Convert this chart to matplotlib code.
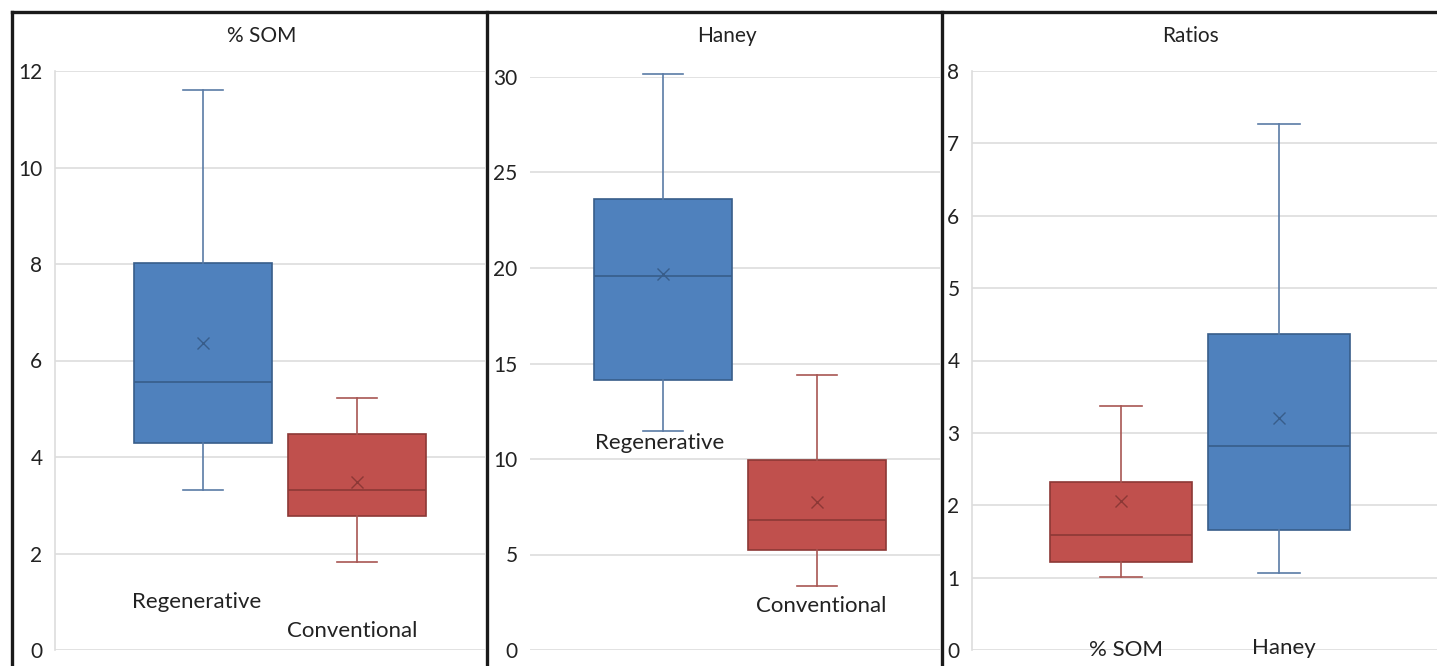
import matplotlib
matplotlib.use('Agg')
from matplotlib import pyplot as plt
from matplotlib.lines import Line2D

# five-number summaries + mean
titles = ['% SOM', 'Haney', 'Ratios']
box_names = [['Regenerative', 'Conventional'],
             ['Regenerative', 'Conventional'],
             ['% SOM', 'Haney']]

som_lo = [3.32, 1.82]
som_q1 = [4.29, 2.78]
som_med = [5.55, 3.32]
som_q3 = [8.02, 4.48]
som_hi = [11.61, 5.22]
som_mean = [6.36, 3.48]

haney_lo = [11.47, 3.35]
haney_q1 = [14.14, 5.24]
haney_med = [19.58, 6.80]
haney_q3 = [23.60, 9.95]
haney_hi = [30.16, 14.40]
haney_mean = [19.70, 7.75]

ratio_lo = [1.01, 1.06]
ratio_q1 = [1.22, 1.66]
ratio_med = [1.59, 2.82]
ratio_q3 = [2.32, 4.36]
ratio_hi = [3.37, 7.27]
ratio_mean = [2.06, 3.20]

y_max = [12, 30, 8]
y_step = [2, 5, 1]

# where the category names sit inside each panel (data coords)
label_dx = [[-0.04, -0.03], [-0.02, 0.03], [0.03, 0.03]]
label_y = [[0.99, 0.39], [10.85, 2.3], [0.0, 0.03]]

BLUE, BLUE_EDGE, BLUE_WHISK = '#4F81BD', '#385D8A', '#5A7BA6'
RED, RED_EDGE, RED_WHISK = '#C0504D', '#8C3836', '#A85653'
colors = [[BLUE, RED], [BLUE, RED], [RED, BLUE]]

W, H = 1437, 666
plt.rcParams['font.family'] = ['Lato', 'DejaVu Sans']


def px_rect(l, r, t, b):
    return [l / W, (H - b) / H, (r - l) / W, (b - t) / H]


fig = plt.figure(figsize=(W / 100, H / 100), dpi=100)

# axes rectangles in pixels and x limits so boxes land where they should
rects = [(55, 485, 71, 650), (530, 940, 77, 650), (972, 1437, 71, 650)]
xlims = [(0.039, 2.83), (0.136, 2.80), (0.057, 3.0)]
title_x = [262, 727, 1190]

panels = [
    (som_lo, som_q1, som_med, som_q3, som_hi, som_mean),
    (haney_lo, haney_q1, haney_med, haney_q3, haney_hi, haney_mean),
    (ratio_lo, ratio_q1, ratio_med, ratio_q3, ratio_hi, ratio_mean),
]

for i, (lo, q1, med, q3, hi, mean) in enumerate(panels):
    ax = fig.add_axes(px_rect(*rects[i]))
    stats = []
    for j in range(2):
        stats.append(dict(whislo=lo[j], q1=q1[j], med=med[j], q3=q3[j],
                          whishi=hi[j], mean=mean[j], fliers=[]))
    bp = ax.bxp(stats, positions=[1, 2], widths=0.9, capwidths=0.26,
                showmeans=True, patch_artist=True, zorder=3)
    for j in range(2):
        is_blue = colors[i][j] == BLUE
        edge = BLUE_EDGE if is_blue else RED_EDGE
        whisk = BLUE_WHISK if is_blue else RED_WHISK
        bp['boxes'][j].set(facecolor=colors[i][j], edgecolor=edge, linewidth=1.2)
        bp['medians'][j].set(color=edge, linewidth=1.2)
        for k in (2 * j, 2 * j + 1):
            bp['whiskers'][k].set(color=whisk, linewidth=1.2, clip_on=False)
            bp['caps'][k].set(color=whisk, linewidth=1.2, clip_on=False)
        bp['means'][j].set(marker='x', markeredgecolor=edge, markersize=8,
                           markeredgewidth=1.0)
        ax.text(j + 1 + label_dx[i][j], label_y[i][j], box_names[i][j],
                ha='center', va='center', fontsize=16, color='#222222',
                zorder=4, clip_on=False)

    ax.set_xlim(*xlims[i])
    ax.set_ylim(0, y_max[i])
    ax.set_yticks(range(0, y_max[i] + 1, y_step[i]))
    ax.set_xticks([])
    ax.grid(axis='y', color='#DDDDDD', linewidth=1.2, zorder=0)
    ax.set_axisbelow(True)
    for s in ('top', 'right', 'bottom'):
        ax.spines[s].set_visible(False)
    if i == 1:
        ax.spines['left'].set_visible(False)
    else:
        ax.spines['left'].set(color='#DDDDDD', linewidth=1.2)
    ax.tick_params(axis='y', length=0, pad=9, labelsize=15,
                   labelcolor='#222222')
    fig.text(title_x[i] / W, (H - 36) / H, titles[i], ha='center',
             va='center', fontsize=15, color='#222222')

# black panel frame
frame = dict(color='#1a1a1a', linewidth=2.4, transform=fig.transFigure)
fig.add_artist(Line2D([12 / W, 1], [(H - 12) / H] * 2, **frame))
for x in (12, 487, 942):
    fig.add_artist(Line2D([x / W] * 2, [0, (H - 12) / H], **frame))

fig.savefig('out.png', dpi=100)
